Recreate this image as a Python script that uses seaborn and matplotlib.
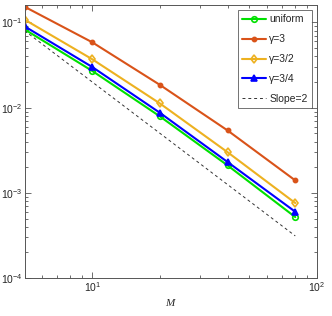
import numpy as np
import pandas as pd
import matplotlib
matplotlib.use('Agg')
import matplotlib.pyplot as plt
import seaborn as sns

M = [5, 10, 20, 40, 80]
err_uniform = [0.083, 0.027, 0.0079, 0.0021, 0.00052]
err_g3 = [0.153, 0.0585, 0.0185, 0.0054, 0.0014]
err_g32 = [0.108, 0.037, 0.0112, 0.003, 0.00076]
err_g34 = [0.09, 0.030, 0.0087, 0.0023, 0.0006]
slope_ref = [0.08, 0.02, 0.005, 0.00125, 0.0003125]

sns.set_style("ticks")
plt.rcParams['font.family'] = ['Liberation Sans', 'DejaVu Sans']
plt.rcParams['mathtext.fontset'] = 'custom'
plt.rcParams['mathtext.rm'] = 'Liberation Sans'
plt.rcParams['mathtext.it'] = 'Liberation Serif:italic'

fig = plt.figure(figsize=(3.32, 3.16), dpi=100)
ax = fig.add_axes([0.074, 0.12, 0.881, 0.864])

series = [
    ('uniform', err_uniform, '#00e000', 'o', 'none', 4),
    ('γ=3', err_g3, '#D95319', 'o', '#D95319', 3),
    ('γ=3/2', err_g32, '#EDB120', 'd', 'none', 4.5),
    ('γ=3/4', err_g34, '#0000ff', '^', '#0000ff', 4),
]
for name, vals, col, mk, mfc, ms in series:
    df = pd.DataFrame({'M': M, 'err': vals})
    sns.lineplot(data=df, x='M', y='err', ax=ax, color=col, marker=mk,
                 markerfacecolor=mfc, markeredgecolor=col, markersize=ms,
                 markeredgewidth=1.2, linewidth=1.5, label=name)

df = pd.DataFrame({'M': M, 'err': slope_ref})
sns.lineplot(data=df, x='M', y='err', ax=ax, color='#333333', linestyle=(0, (3, 3)),
             linewidth=0.7, label='Slope=2')

ax.set_xscale('log')
ax.set_yscale('log')
ax.set_xlim(5, 100)
ax.set_ylim(1e-4, 0.16)
ax.set_xlabel('$M$', fontsize=8, labelpad=2)
ax.set_ylabel('')
ax.tick_params(which='both', direction='in', top=True, right=True,
               labelsize=7.5, color='#555555', width=0.6, pad=1.5)
ax.tick_params(which='major', length=4)
ax.tick_params(which='minor', length=2)
for sp in ax.spines.values():
    sp.set_color('#555555')
    sp.set_linewidth(0.7)

leg = ax.legend(loc='upper right', fontsize=7.5, frameon=True, fancybox=False,
                handlelength=2.3, handletextpad=0.3, borderpad=0.4,
                labelspacing=0.95, borderaxespad=0.5)
leg.get_frame().set_edgecolor('#333333')
leg.get_frame().set_linewidth(0.6)

fig.savefig('out.png', dpi=100)
